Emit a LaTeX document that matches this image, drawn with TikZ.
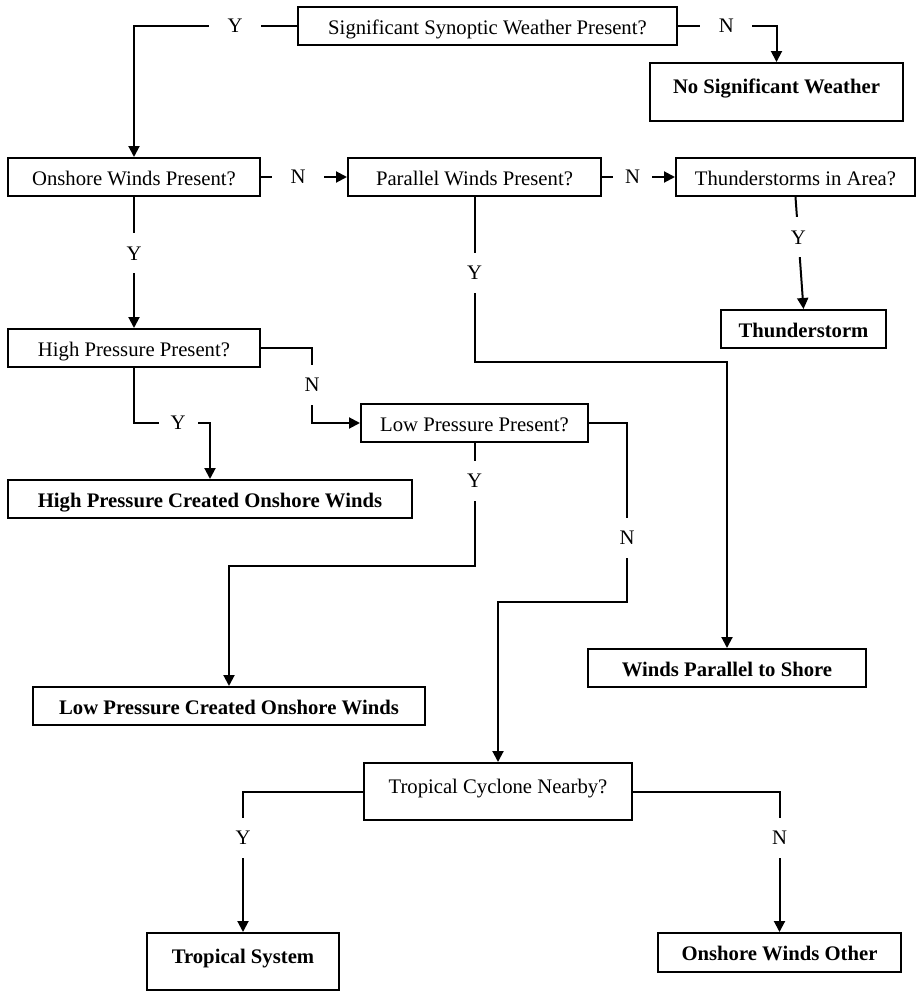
\documentclass[tikz,border=0pt]{standalone}
\usepackage{fontspec}
\setmainfont{Liberation Serif}
\usetikzlibrary{arrows.meta}

\begin{document}
\begin{tikzpicture}[x=1pt, y=-1pt, line width=2pt,
        >={Triangle[length=11pt,width=11pt]},
        box/.style={draw, rectangle, inner sep=0pt, minimum height=38pt,
            font=\fontsize{20.7}{25}\selectfont, text height=20pt, text depth=4pt},
        strong/.style={font=\fontsize{20.7}{25}\selectfont\bfseries},
        tall/.style={text depth=17pt},
        yn/.style={fill=white, inner sep=0pt, minimum width=40pt, minimum height=40pt,
            font=\fontsize{20.7}{25}\selectfont}]
        \useasboundingbox (0,0) rectangle (916,991);

        \node[box, minimum width=379pt] (sig) at (487.5,26) {Significant Synoptic Weather Present?};
        \node[box, strong, tall, minimum width=253pt, minimum height=58pt] (nosig) at (776.5,92) {No Significant Weather};
        \node[box, minimum width=252pt] (onshore) at (134,177) {Onshore Winds Present?};
        \node[box, minimum width=253pt] (parallel) at (474.5,177) {Parallel Winds Present?};
        \node[box, minimum width=239pt] (thunder) at (795.5,177) {Thunderstorms in Area?};
        \node[box, strong, minimum width=165pt] (tstorm) at (803.5,329) {Thunderstorm};
        \node[box, minimum width=252pt] (high) at (134,348) {High Pressure Present?};
        \node[box, minimum width=227pt] (low) at (474.5,423) {Low Pressure Present?};
        \node[box, strong, minimum width=404pt] (hpc) at (210,499) {High Pressure Created Onshore Winds};
        \node[box, strong, minimum width=278pt] (wpar) at (727,668) {Winds Parallel to Shore};
        \node[box, strong, minimum width=392pt] (lpc) at (229,706) {Low Pressure Created Onshore Winds};
        \node[box, tall, minimum width=268pt, minimum height=57pt] (trop) at (498,791.5) {Tropical Cyclone Nearby?};
        \node[box, strong, tall, minimum width=192pt, minimum height=57pt] (tsys) at (243,961.5) {Tropical System};
        \node[box, strong, minimum width=243pt, minimum height=39pt] (other) at (779.5,952.5) {Onshore Winds Other};

        \draw[->] (sig.west) -| node[yn, minimum width=52pt, pos=.19] {Y} (onshore.north);
        \draw[->] (sig.east) -| node[yn, minimum width=52pt, pos=.246] {N} (nosig.north);
        \draw[->] (onshore.east) -- node[yn, minimum width=52pt, pos=.43] {N} (parallel.west);
        \draw[->] (parallel.east) -- node[yn, minimum width=39pt, pos=.42] {N} (thunder.west);
        \draw[->] (thunder.south) -- node[yn, pos=.36] {Y} (tstorm.north);
        \draw[->] (onshore.south) -- node[yn, pos=.43] {Y} (high.north);
        \draw[->] (parallel.south) -- node[yn, pos=.46] {Y} ++(0,165) -| (wpar.north);
        \draw[->] (high.south) |- node[yn, minimum width=39pt, pos=.79] {Y} (hpc.north |- low.west) -- (hpc.north);
        \draw[->] (high.east) -- ++(51,0) |- node[yn, pos=.245] {N} (low.west);
        \draw[->] (low.south) -- node[yn, pos=.31] {Y} ++(0,123) -| (lpc.north);
        \draw[->] (low.east) -- ++(38,0) -- node[yn, pos=.64] {N} ++(0,179) -| (trop.north);
        \draw[->] (trop.west) -| node[yn, pos=.665] {Y} (tsys.north);
        \draw[->] (trop.east) -| node[yn, pos=.665] {N} (other.north);
    \end{tikzpicture}
\end{document}
